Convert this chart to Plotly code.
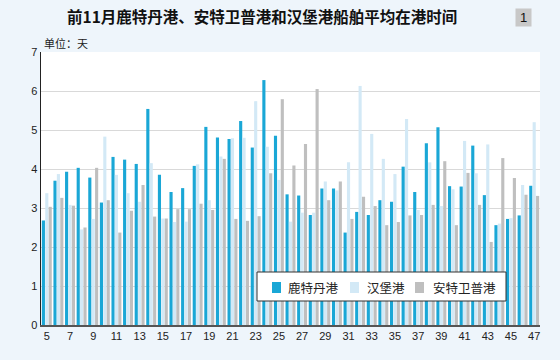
import plotly.graph_objects as go

weeks = list(range(5, 48))
rotterdam = [2.68, 3.70, 3.93, 4.03, 3.78, 3.14, 4.31, 4.24, 4.13, 5.54,
             3.85, 3.41, 3.51, 4.08, 5.08, 4.81, 4.77, 5.23, 4.55, 6.28,
             4.85, 3.35, 3.32, 2.82, 3.50, 3.50, 2.37, 2.90, 2.82, 3.20,
             3.16, 4.06, 3.41, 4.66, 5.07, 3.56, 3.55, 4.60, 3.33, 2.56,
             2.72, 2.81, 3.57]
hamburg = [3.38, 3.87, 3.08, 2.45, 2.72, 4.83, 3.85, 3.38, 3.16, 4.15,
           2.73, 2.64, 2.65, 4.12, 3.20, 4.32, 4.79, 4.80, 5.74, 4.57,
           3.72, 2.65, 2.88, 2.88, 3.68, 3.45, 4.17, 6.13, 4.90, 4.26,
           3.87, 5.28, 2.95, 4.17, 3.05, 3.48, 4.72, 3.89, 4.63, 2.60,
           2.74, 3.59, 5.20]
antwerp = [3.03, 3.26, 3.06, 2.50, 4.03, 3.20, 2.37, 2.93, 3.59, 2.78,
           2.73, 2.97, 2.97, 3.11, 2.95, 4.26, 2.72, 2.67, 2.79, 3.89,
           5.79, 4.09, 4.64, 6.05, 3.20, 3.68, 2.72, 3.29, 3.05, 2.56,
           2.64, 2.81, 2.82, 3.08, 4.20, 2.56, 3.90, 3.08, 2.13, 4.28,
           3.77, 3.34, 3.31]
x_ticks = list(range(5, 48, 2))
y_ticks = list(range(0, 8))

names = ["鹿特丹港", "汉堡港", "安特卫普港"]
colors = ["#1aa7d6", "#d3e9f6", "#bfbfbf"]

# plot area in pixels
PL, PR, PT, PB = 41, 540, 52, 325
W, H = 560, 360


def px(xp):
    return (xp - PL) / (PR - PL)


def py(yp):
    return (PB - yp) / (PB - PT)


fig = go.Figure()
for name, vals, c in zip(names, [rotterdam, hamburg, antwerp], colors):
    fig.add_trace(go.Bar(x=weeks, y=vals, name=name, marker_color=c,
                         marker_line_width=0, hoverinfo="skip"))

font_cjk = "Noto Sans CJK SC, Liberation Sans, Arial, sans-serif"

shapes = [
    dict(type="rect", xref="paper", yref="paper",
         x0=px(257), x1=px(506), y0=py(301), y1=py(272),
         fillcolor="#ffffff", line=dict(color="#333333", width=1), layer="above"),
]
legend_marks = [(272, 286), (350, 365), (415, 431)]
annotations = []
for (mx, tx), name, c in zip(legend_marks, names, colors):
    shapes.append(dict(type="rect", xref="paper", yref="paper",
                       x0=px(mx), x1=px(mx + 9), y0=py(293), y1=py(282),
                       fillcolor=c, line=dict(width=0), layer="above"))
    annotations.append(dict(text=name, xref="paper", yref="paper",
                            x=px(tx), y=py(287.5), xanchor="left", yanchor="middle",
                            showarrow=False,
                            font=dict(family=font_cjk, size=12.5, color="#222222")))

annotations += [
    dict(text="<b>前11月鹿特丹港、安特卫普港和汉堡港船舶平均在港时间</b>",
         xref="paper", yref="paper", x=px(262), y=py(16),
         xanchor="center", yanchor="middle", showarrow=False,
         font=dict(family=font_cjk, size=15.5, color="#111111")),
    dict(text="单位：天", xref="paper", yref="paper",
         x=px(42), y=py(43),
         xanchor="left", yanchor="middle", showarrow=False,
         font=dict(family=font_cjk, size=11, color="#222222")),
    dict(text="1", xref="paper", yref="paper",
         x=px(523), y=py(17),
         xanchor="center", yanchor="middle", showarrow=False,
         bgcolor="#c8c8c8", borderpad=1, width=13, height=15,
         font=dict(family="Liberation Sans, Arial, sans-serif", size=13, color="#111111")),
]

fig.update_layout(
    width=W, height=H,
    margin=dict(l=PL, r=W - PR, t=PT, b=H - PB),
    paper_bgcolor="#eef5fb",
    plot_bgcolor="#ffffff",
    barmode="group",
    bargap=0.12,
    bargroupgap=0.08,
    hovermode=False,
    font=dict(family="Liberation Sans, Arial, sans-serif", size=11, color="#222222"),
    showlegend=False,
    xaxis=dict(
        range=[4.5, 47.5],
        tickvals=x_ticks,
        ticktext=[str(v) for v in x_ticks],
        showgrid=False,
        showline=True, linecolor="#555555", linewidth=1.5,
        ticks="", tickfont=dict(size=11),
        zeroline=False,
    ),
    yaxis=dict(
        range=[0, 7],
        tickvals=y_ticks,
        showgrid=True, gridcolor="#d9d9d9", gridwidth=1,
        showline=True, linecolor="#222222", linewidth=1.5,
        ticks="", tickfont=dict(size=11),
        zeroline=False,
    ),
    shapes=shapes,
    annotations=annotations,
)

fig.write_html("out.html", config={"displayModeBar": False, "staticPlot": True},
               post_script="document.body.style.margin='0';")
